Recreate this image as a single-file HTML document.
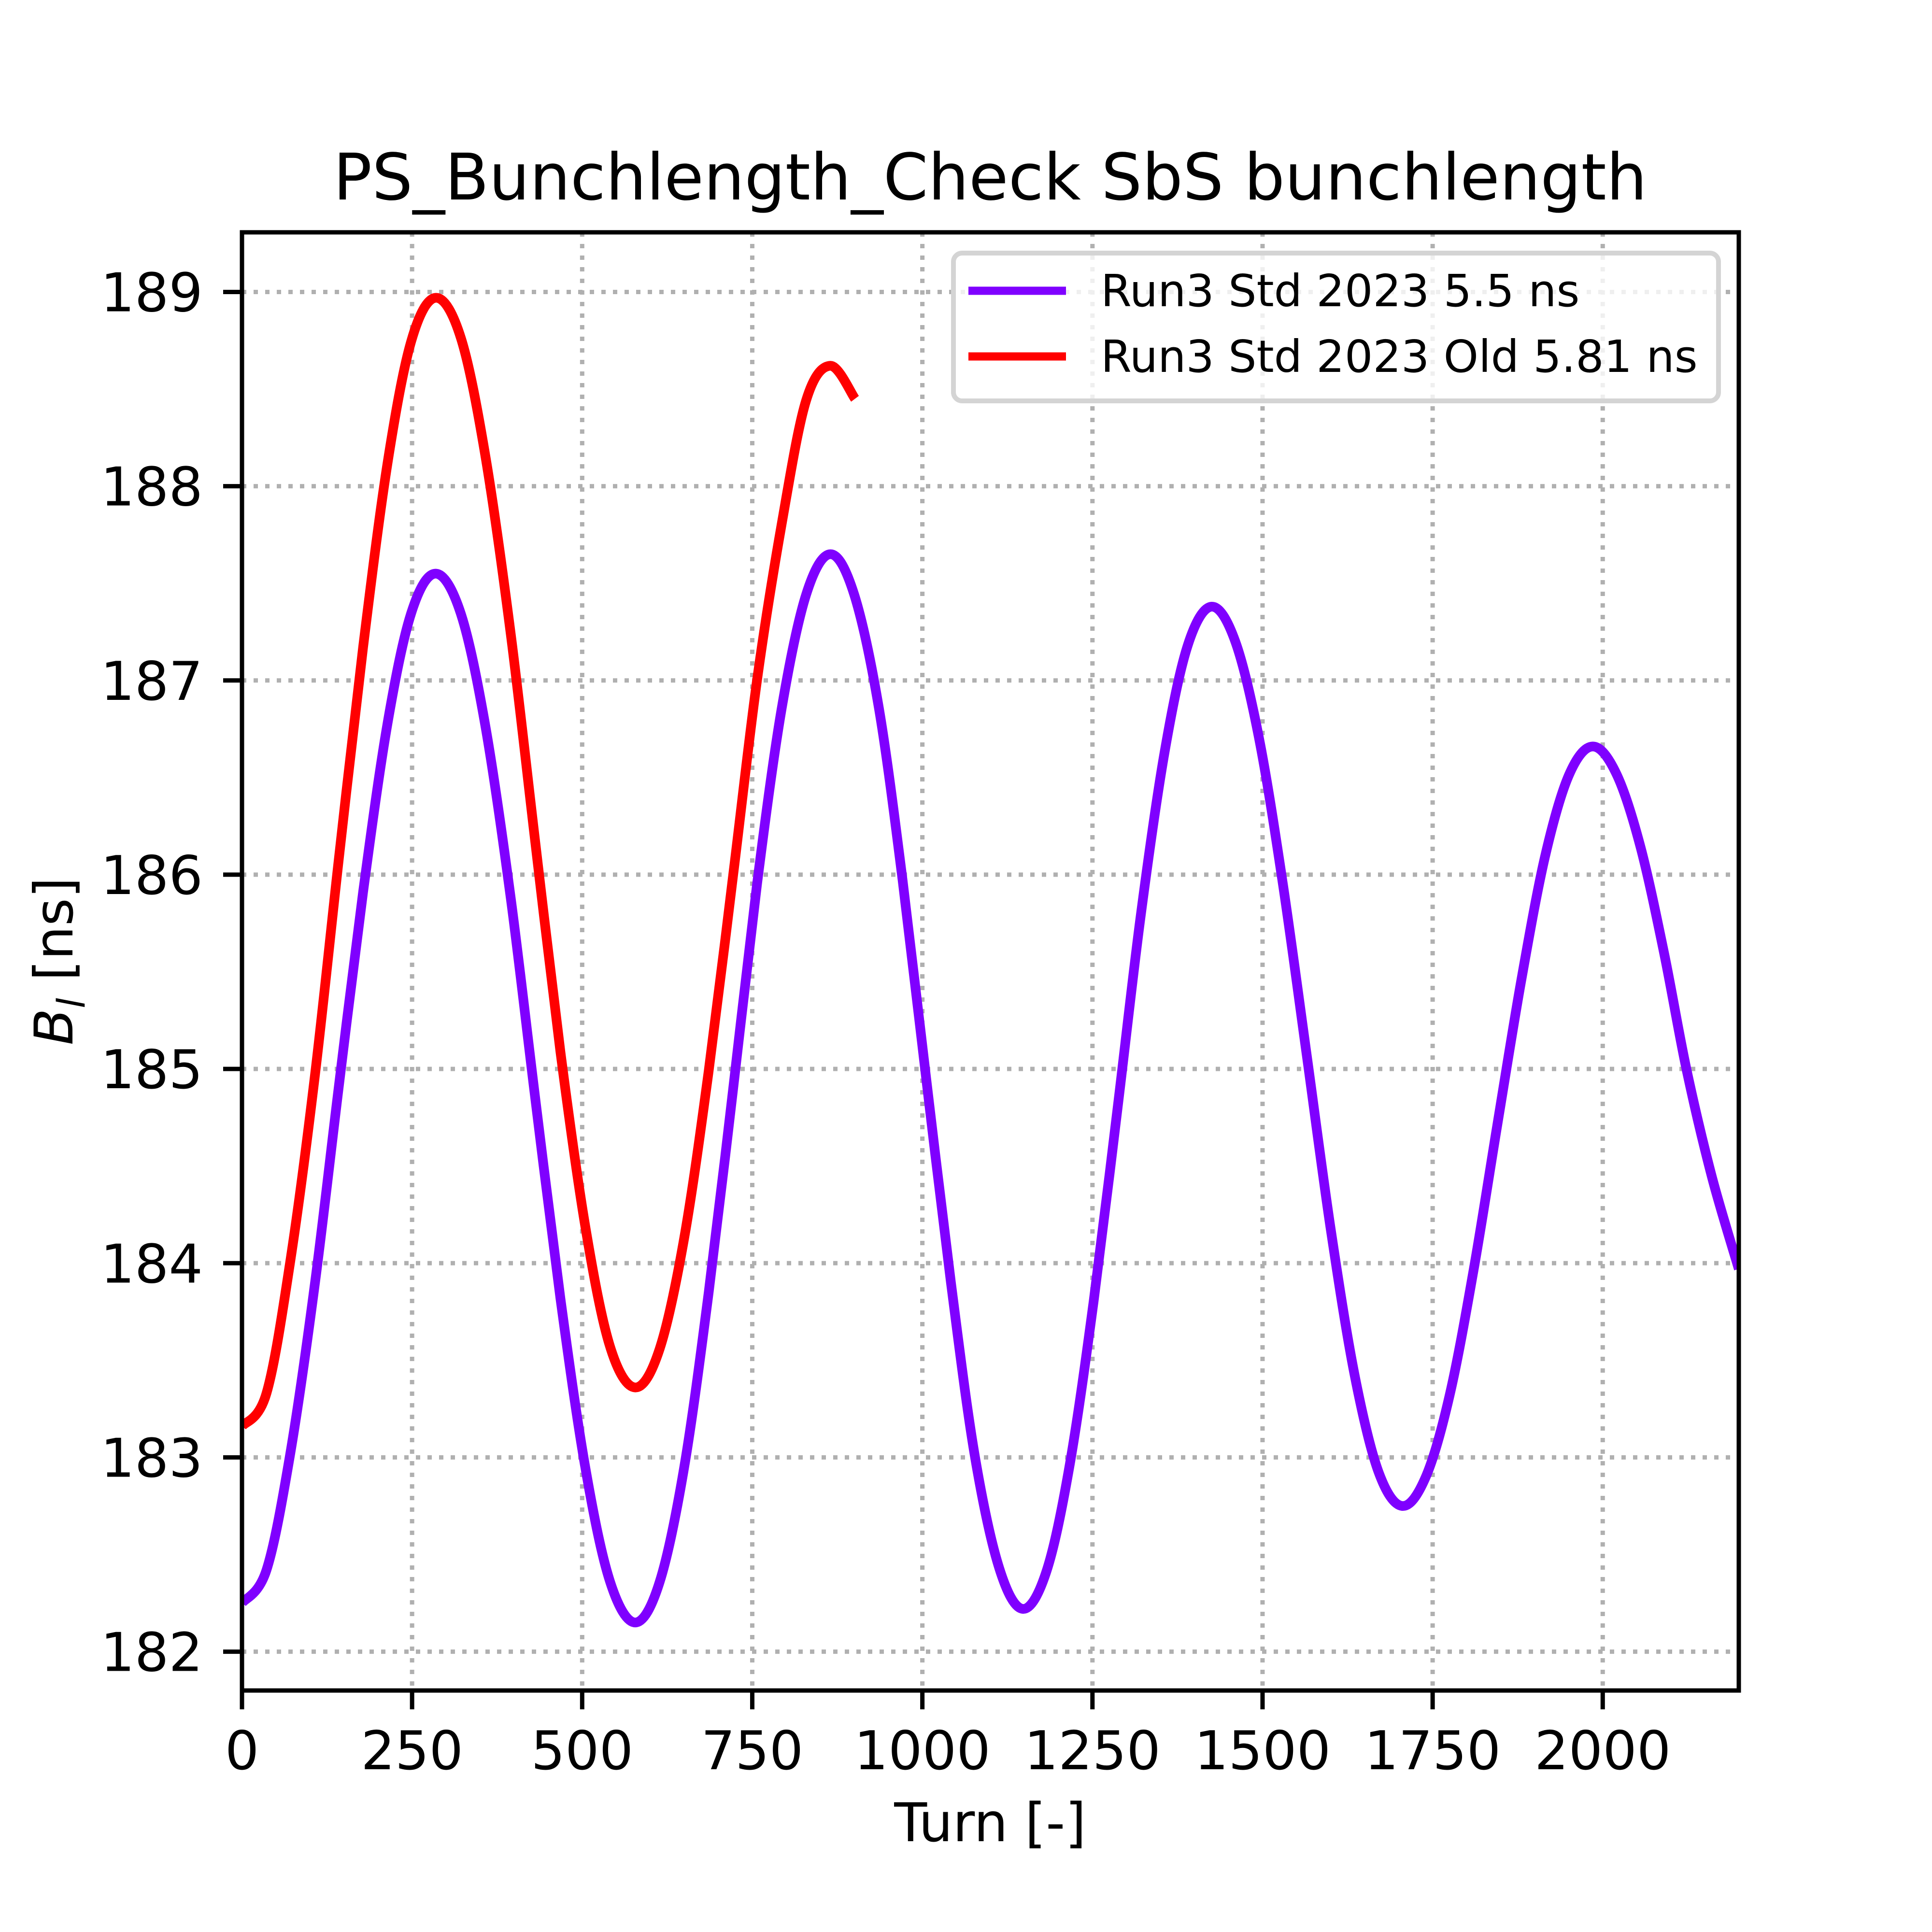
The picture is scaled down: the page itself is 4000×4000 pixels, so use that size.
<!DOCTYPE html>
<html><head><meta charset="utf-8">
<style>
html,body{margin:0;padding:0;background:#fff;}
svg{display:block;}
text{font-family:"DejaVu Sans","Liberation Sans",sans-serif;fill:#000;}
</style></head>
<body>
<svg id="chart" width="4000" height="4000" viewBox="0 0 4000 4000" xmlns="http://www.w3.org/2000/svg">
<rect width="4000" height="4000" fill="#fff"/>
<g id="grid"></g>
<g id="series"></g>
<rect x="501" y="481" width="3099" height="3019" fill="none" stroke="#000" stroke-width="9"/>
<g id="ticks"></g>
<text x="2050" y="413" font-size="133" text-anchor="middle">PS_Bunchlength_Check SbS bunchlength</text>
<text x="2050" y="3812" font-size="111" text-anchor="middle">Turn [-]</text>
<text transform="translate(150,1990) rotate(-90)" font-size="111" text-anchor="middle"><tspan font-style="italic">B</tspan><tspan font-style="italic" font-size="78" dy="25">l</tspan><tspan dy="-25"> [ns]</tspan></text>
<g>
<rect x="1974" y="524" width="1584" height="306" rx="18" fill="#fff" fill-opacity="0.8" stroke="#d4d4d4" stroke-width="10"/>
<line x1="2005" y1="602" x2="2207" y2="602" stroke="#7f00ff" stroke-width="17"/>
<text x="2279" y="634" font-size="92">Run3 Std 2023 5.5 ns</text>
<line x1="2005" y1="738" x2="2207" y2="738" stroke="#ff0000" stroke-width="17"/>
<text x="2279" y="770" font-size="92">Run3 Std 2023 Old 5.81 ns</text>
</g>
</svg>
<script>
const xTicks = [0,250,500,750,1000,1250,1500,1750,2000];
const yTicks = [182,183,184,185,186,187,188,189];
const purpleX = [0,36,71,107,142,178,214,249,285,322,358,395,431,468,505,541,578,614,650,686,722,757,793,829,865,900,936,971,1006,1042,1077,1113,1148,1183,1217,1252,1287,1321,1356,1390,1425,1460,1495,1530,1565,1600,1635,1670,1705,1740,1775,1810,1845,1880,1915,1950,1985,2020,2055,2090,2123,2160,2200];
const purpleY = [182.25,182.42,183.02,183.89,184.90,185.91,186.78,187.35,187.55,187.34,186.76,185.88,184.85,183.82,182.94,182.36,182.15,182.36,182.95,183.85,184.90,185.95,186.85,187.44,187.65,187.44,186.86,185.97,184.94,183.90,183.01,182.43,182.22,182.42,182.97,183.81,184.80,185.79,186.63,187.18,187.38,187.20,186.70,185.95,185.07,184.18,183.43,182.93,182.75,182.90,183.32,183.96,184.71,185.45,186.09,186.51,186.66,186.52,186.15,185.60,185.00,184.45,183.97];
const redX = [0,36,71,107,142,178,214,249,285,322,358,395,431,468,505,541,578,614,650,686,722,757,793,829,865,901];
const redY = [183.16,183.33,184.01,184.96,186.07,187.17,188.12,188.75,188.97,188.76,188.15,187.24,186.17,185.09,184.18,183.57,183.36,183.56,184.13,184.99,186.00,187.00,187.80,188.44,188.62,188.45];

const X0=501, X1=3600, Y0=3500, Y1=481;
const xMin=0, xMax=2200, yMin=181.80, yMax=189.307;
function sx(v){return X0+(v-xMin)/(xMax-xMin)*(X1-X0);}
function sy(v){return Y0-(v-yMin)/(yMax-yMin)*(Y0-Y1);}
const NS="http://www.w3.org/2000/svg";
const grid=document.getElementById('grid'), ticks=document.getElementById('ticks'), series=document.getElementById('series');
function mk(tag,attrs,parent){const e=document.createElementNS(NS,tag);for(const k in attrs)e.setAttribute(k,attrs[k]);parent.appendChild(e);return e;}

xTicks.forEach(t=>{
  const x=sx(t);
  const g=mk('line',{x1:x,y1:Y1,x2:x,y2:Y0,stroke:'#b0b0b0','stroke-width':9,'stroke-dasharray':'9 15'},grid);
  
  
  const tk=mk('line',{x1:x,y1:Y0,x2:x,y2:Y0+39,stroke:'#000','stroke-width':9},ticks);
  
  
  const lb=mk('text',{x:x,y:3663,'font-size':111,'text-anchor':'middle'},ticks);
  lb.textContent=String(t);
  
  
});
yTicks.forEach(t=>{
  const y=sy(t);
  const g=mk('line',{x1:X0,y1:y,x2:X1,y2:y,stroke:'#b0b0b0','stroke-width':9,'stroke-dasharray':'9 15'},grid);
  
  
  const tk=mk('line',{x1:X0-39,y1:y,x2:X0,y2:y,stroke:'#000','stroke-width':9},ticks);
  
  
  const lb=mk('text',{x:420,y:y+40,'font-size':111,'text-anchor':'end'},ticks);
  lb.textContent=String(t);
  
  
});

function smoothPath(xs,ys){
  const p=xs.map((v,i)=>[sx(v),sy(ys[i])]);
  let d='M'+p[0][0].toFixed(1)+','+p[0][1].toFixed(1);
  for(let i=0;i<p.length-1;i++){
    const a=p[Math.max(i-1,0)],b=p[i],c=p[i+1],e=p[Math.min(i+2,p.length-1)];
    const c1=[b[0]+(c[0]-a[0])/6,b[1]+(c[1]-a[1])/6];
    const c2=[c[0]-(e[0]-b[0])/6,c[1]-(e[1]-b[1])/6];
    d+=' C'+c1[0].toFixed(1)+','+c1[1].toFixed(1)+' '+c2[0].toFixed(1)+','+c2[1].toFixed(1)+' '+c[0].toFixed(1)+','+c[1].toFixed(1);
  }
  return d;
}
const clip=mk('clipPath',{id:'plotclip'},mk('defs',{},series));
mk('rect',{x:X0,y:Y1,width:X1-X0,height:Y0-Y1},clip);
const pl=mk('path',{d:smoothPath(purpleX,purpleY),fill:'none',stroke:'#7f00ff','stroke-width':20,'clip-path':'url(#plotclip)'},series);


const rl=mk('path',{d:smoothPath(redX,redY),fill:'none',stroke:'#ff0000','stroke-width':20,'clip-path':'url(#plotclip)'},series);


</script>
</body></html>
